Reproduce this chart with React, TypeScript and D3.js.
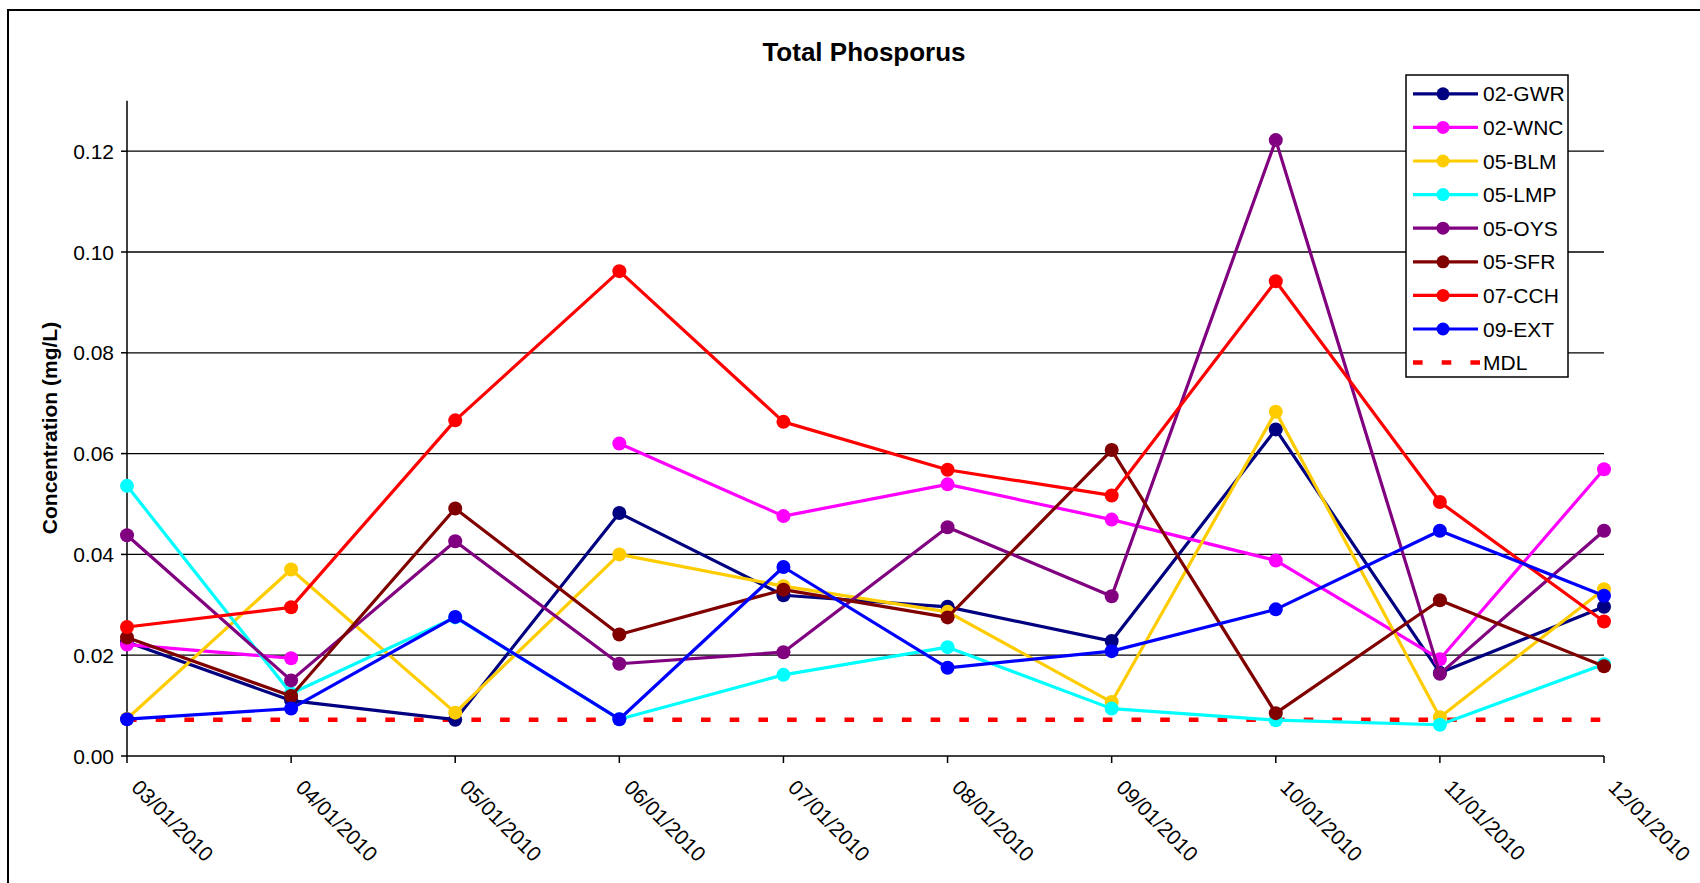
import React from 'react'
import * as d3 from 'd3'

const dates = ['03/01/2010', '04/01/2010', '05/01/2010', '06/01/2010', '07/01/2010', '08/01/2010', '09/01/2010', '10/01/2010', '11/01/2010', '12/01/2010']

const gwr = [0.0226, 0.011, 0.0072, 0.0482, 0.0319, 0.0296, 0.0228, 0.0648, 0.0165, 0.0296]
const wnc = [0.0221, 0.0194, null, 0.062, 0.0476, 0.0539, 0.0469, 0.0388, 0.0192, 0.0569]
const blm = [0.0074, 0.037, 0.0086, 0.04, 0.0337, 0.0286, 0.0107, 0.0683, 0.0077, 0.0331]
const lmp = [0.0536, 0.0124, 0.0275, 0.0073, 0.0161, 0.0216, 0.0094, 0.0071, 0.0062, 0.0182]
const oys = [0.0438, 0.015, 0.0426, 0.0183, 0.0206, 0.0454, 0.0317, 0.1222, 0.0163, 0.0447]
const sfr = [0.0235, 0.0119, 0.0491, 0.0241, 0.033, 0.0275, 0.0607, 0.0085, 0.0309, 0.0178]
const cch = [0.0256, 0.0295, 0.0666, 0.0962, 0.0663, 0.0568, 0.0517, 0.0942, 0.0504, 0.0267]
const ext = [0.0073, 0.0094, 0.0276, 0.0073, 0.0375, 0.0175, 0.0208, 0.0291, 0.0447, 0.0318]
const mdl = 0.0072

const seriesNames = ['02-GWR', '02-WNC', '05-BLM', '05-LMP', '05-OYS', '05-SFR', '07-CCH', '09-EXT']
const seriesValues = [gwr, wnc, blm, lmp, oys, sfr, cch, ext]
const seriesColors = ['#000080', '#FF00FF', '#FFCC00', '#00FFFF', '#800080', '#800000', '#FF0000', '#0000FF']

const yTicks = [0, 0.02, 0.04, 0.06, 0.08, 0.1, 0.12]

const W = 1700
const H = 883
const font = "'Liberation Sans', Arial, sans-serif"

export default function App() {
    const x = d3.scalePoint<string>().domain(dates).range([127, 1604])
    const y = d3.scaleLinear().domain([0, 0.13]).range([756, 100.8])
    const fmt = d3.format('.2f')

    const line = d3
        .line<number | null>()
        .defined((d) => d != null)
        .x((_, i) => x(dates[i]) as number)
        .y((d) => y(d as number))

    const [x0, x1] = x.range()

    // legend
    const lgX = 1406
    const lgY = 75
    const lgRow = 33.6
    const legendItems = [...seriesNames, 'MDL']

    return (
        <svg width={W} height={H} style={{ position: 'absolute', left: 0, top: 0, display: 'block', background: '#fff' }} fontFamily={font}>
            <rect x={0} y={0} width={W} height={H} fill="#fff" />
            {/* chart border (runs off right/bottom) */}
            <path d={`M8,${H + 5} L8,10 L${W + 5},10`} fill="none" stroke="#000" strokeWidth={2} />

            <text x={864} y={61} textAnchor="middle" fontSize={26} fontWeight="bold">
                Total Phosporus
            </text>

            {/* gridlines */}
            {yTicks
                .filter((t) => t > 0)
                .map((t) => (
                    <line key={t} x1={x0} x2={x1} y1={y(t)} y2={y(t)} stroke="#000" strokeWidth={1.3} />
                ))}

            {/* y axis */}
            <line x1={x0} x2={x0} y1={y(0.13)} y2={y(0)} stroke="#000" strokeWidth={1.5} />
            {yTicks.map((t) => (
                <g key={t}>
                    <line x1={x0 - 6} x2={x0} y1={y(t)} y2={y(t)} stroke="#000" strokeWidth={1.5} />
                    <text x={x0 - 13} y={y(t)} textAnchor="end" dominantBaseline="central" fontSize={21}>
                        {fmt(t)}
                    </text>
                </g>
            ))}
            <text transform={`translate(49,428) rotate(-90)`} textAnchor="middle" dominantBaseline="central" fontSize={21} fontWeight="bold">
                Concentration (mg/L)
            </text>

            {/* x axis */}
            <line x1={x0} x2={x1} y1={y(0)} y2={y(0)} stroke="#000" strokeWidth={1.5} />
            {dates.map((d) => (
                <g key={d}>
                    <line x1={x(d)} x2={x(d)} y1={y(0)} y2={y(0) + 7} stroke="#000" strokeWidth={1.5} />
                    <text transform={`translate(${(x(d) as number) + 14},778) rotate(45)`} dy="0.72em" fontSize={21}>
                        {d}
                    </text>
                </g>
            ))}

            {/* MDL */}
            <line x1={x0} x2={x1} y1={y(mdl)} y2={y(mdl)} stroke="#FF0000" strokeWidth={4.5} strokeDasharray="9.6 19.1" />

            {/* series */}
            {seriesValues.map((vals, si) => (
                <g key={seriesNames[si]}>
                    <path d={line(vals) || ''} fill="none" stroke={seriesColors[si]} strokeWidth={3.2} strokeLinejoin="round" />
                    {vals.map((v, i) =>
                        v == null ? null : <circle key={i} cx={x(dates[i])} cy={y(v)} r={7} fill={seriesColors[si]} />
                    )}
                </g>
            ))}

            {/* legend */}
            <rect x={lgX} y={lgY} width={162} height={302} fill="#fff" stroke="#000" strokeWidth={1.5} />
            {legendItems.map((name, i) => {
                const cy = lgY + 18.8 + i * lgRow
                const isMdl = name === 'MDL'
                return (
                    <g key={name}>
                        {isMdl ? (
                            <line x1={1413} x2={1480} y1={cy} y2={cy} stroke="#FF0000" strokeWidth={4.5} strokeDasharray="9.6 19.1" />
                        ) : (
                            <>
                                <line x1={1413} x2={1478} y1={cy} y2={cy} stroke={seriesColors[i]} strokeWidth={3.2} />
                                <circle cx={1443} cy={cy} r={6.5} fill={seriesColors[i]} />
                            </>
                        )}
                        <text x={1483} y={cy} dominantBaseline="central" fontSize={21}>
                            {name}
                        </text>
                    </g>
                )
            })}
        </svg>
    )
}
